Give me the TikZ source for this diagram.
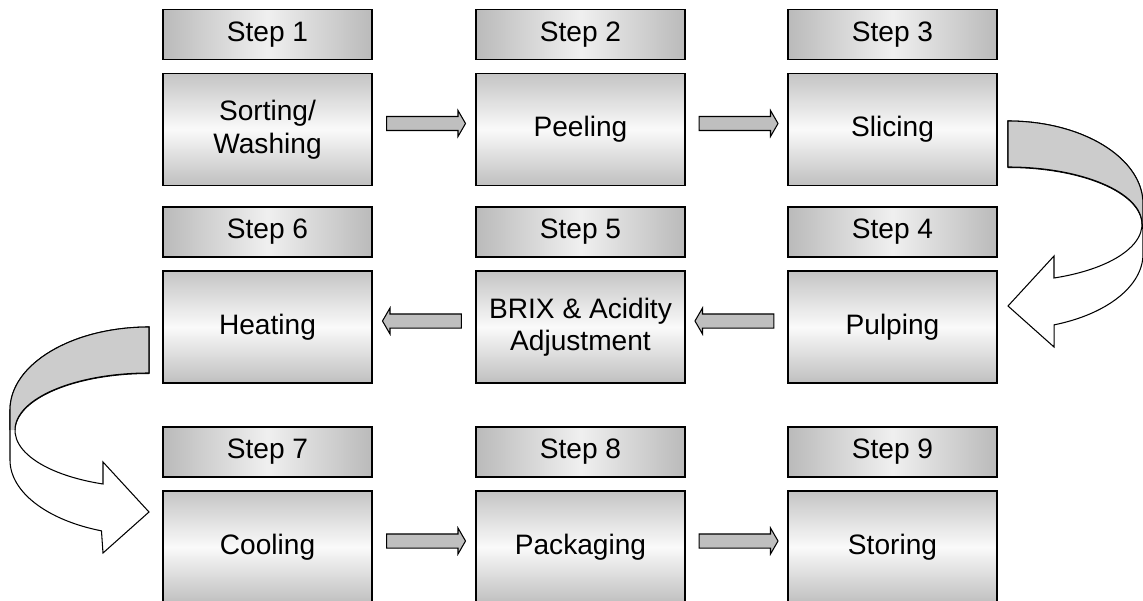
\documentclass[tikz,border=0pt]{standalone}
\usepackage{fontspec}
\setmainfont{Liberation Sans}
\usetikzlibrary{shapes.arrows}
\usetikzlibrary{positioning}
\usetikzlibrary{calc}

\begin{document}
\begin{tikzpicture}[x=0.02cm,y=-0.02cm,
  stephead/.style={draw,line width=0.85pt,minimum width=4.18cm,minimum height=1cm,inner sep=0pt,
    left color=black!27,right color=black!27,middle color=black!6,font=\fontsize{16}{18.5}\selectfont},
  stepbox/.style={draw,line width=0.85pt,minimum width=4.18cm,minimum height=2.24cm,inner sep=0pt,align=center,
    top color=black!23,bottom color=black!25,middle color=black!2,font=\fontsize{16}{18.5}\selectfont},
  fatarrow/.style={single arrow,draw,line width=0.6pt,fill=black!25,minimum height=1.58cm,
    inner xsep=0pt,inner ysep=0.13cm,single arrow head extend=0.12cm,single arrow tip angle=120,yshift=0.12cm},
  ribbon/.style={draw,line width=0.6pt,fill=white}]
\useasboundingbox (0,0) rectangle (1143,601);

% process boxes
\node[stepbox] (sort) at (267.5,129.5) {Sorting/\\Washing};
\node[stepbox] (peel) at (580.5,129.5) {Peeling};
\node[stepbox] (slice) at (892.5,129.5) {Slicing};
\node[stepbox] (pulp) at (892.5,327) {Pulping};
\node[stepbox] (brix) at (580.5,327) {BRIX \& Acidity\\Adjustment};
\node[stepbox] (heat) at (267.5,327) {Heating};
\node[stepbox] (cool) at (267.5,547) {Cooling};
\node[stepbox] (pack) at (580.5,547) {Packaging};
\node[stepbox] (store) at (892.5,547) {Storing};

% step labels
\node[stephead,above=0.25cm of sort] (step1) {Step 1};
\node[stephead,above=0.25cm of peel] (step2) {Step 2};
\node[stephead,above=0.25cm of slice] (step3) {Step 3};
\node[stephead,above=0.25cm of pulp] (step4) {Step 4};
\node[stephead,above=0.25cm of brix] (step5) {Step 5};
\node[stephead,above=0.25cm of heat] (step6) {Step 6};
\node[stephead,above=0.25cm of cool] (step7) {Step 7};
\node[stephead,above=0.25cm of pack] (step8) {Step 8};
\node[stephead,above=0.25cm of store] (step9) {Step 9};

% straight arrows
\node[fatarrow] (a12) at ($(sort.east)!0.5!(peel.west)$) {};
\node[fatarrow] (a23) at ($(peel.east)!0.5!(slice.west)$) {};
\node[fatarrow,shape border rotate=180] (a45) at ($(pulp.west)!0.5!(brix.east)$) {};
\node[fatarrow,shape border rotate=180] (a56) at ($(brix.west)!0.5!(heat.east)$) {};
\node[fatarrow] (a78) at ($(cool.east)!0.5!(pack.west)$) {};
\node[fatarrow] (a89) at ($(pack.east)!0.5!(store.west)$) {};

% slicing -> pulping
\begin{scope}[shift={(1008,121)}]
\draw[ribbon] (0,0) arc[start angle=-90,end angle=0,x radius=135,y radius=83] -- (135,133)
  arc[start angle=0,end angle=70,x radius=135,y radius=75.4] -- (46,226) -- (0,185) -- (46,135) -- (46,157)
  arc[start angle=69.9,end angle=-90,x radius=134,y radius=57] -- cycle;
\fill[black!20] (0,0) arc[start angle=-90,end angle=0,x radius=135,y radius=83] -- (135,103) -- (134,103)
  arc[start angle=0,end angle=-90,x radius=134,y radius=57] -- cycle;
\draw[line width=0.6pt] (0,46) -- (0,0) arc[start angle=-90,end angle=0,x radius=135,y radius=83] -- (135,103);
\draw[line width=0.6pt] (134,103) arc[start angle=0,end angle=-90,x radius=134,y radius=57];
\end{scope}

% heating -> cooling
\begin{scope}[shift={(149,327)},xscale=-1]
\draw[ribbon] (0,0) arc[start angle=-90,end angle=0,x radius=139,y radius=83] -- (139,133)
  arc[start angle=0,end angle=70,x radius=139,y radius=75.4] -- (46,226) -- (0,185) -- (46,135) -- (46,157)
  arc[start angle=69.9,end angle=-90,x radius=134,y radius=57] -- cycle;
\fill[black!20] (0,0) arc[start angle=-90,end angle=0,x radius=139,y radius=83] -- (139,103) -- (134,103)
  arc[start angle=0,end angle=-90,x radius=134,y radius=57] -- cycle;
\draw[line width=0.6pt] (0,46) -- (0,0) arc[start angle=-90,end angle=0,x radius=139,y radius=83] -- (139,103);
\draw[line width=0.6pt] (134,103) arc[start angle=0,end angle=-90,x radius=134,y radius=57];
\end{scope}

\end{tikzpicture}
\end{document}
